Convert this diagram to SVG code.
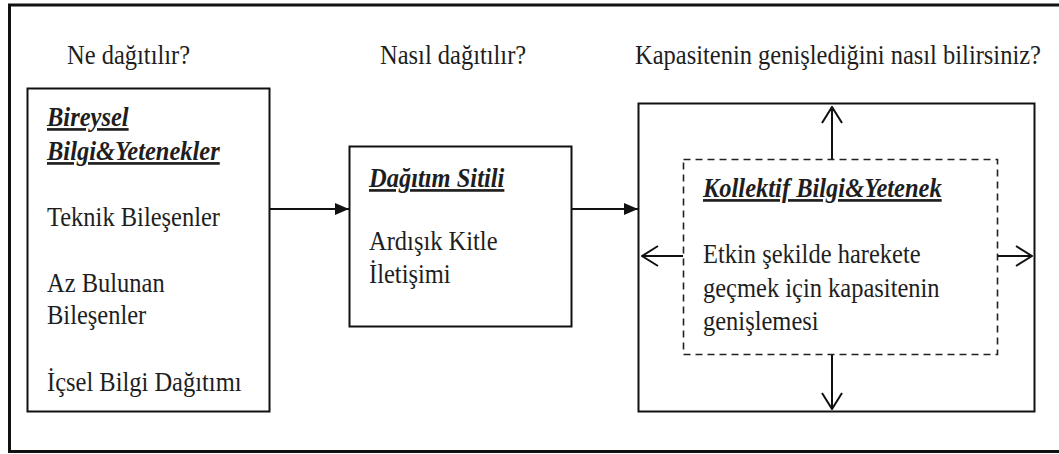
<svg xmlns="http://www.w3.org/2000/svg" width="1059" height="454" viewBox="0 0 1059 454" font-family="Liberation Serif, serif">
  <defs>
    <style>
      .frame { fill: none; stroke: #111; stroke-width: 3; }
      .box { fill: #fff; stroke: #111; stroke-width: 2; }
      .dash { fill: none; stroke: #222; stroke-width: 1.6; stroke-dasharray: 7 5; }
      .link { fill: none; stroke: #111; stroke-width: 2; }
      .t { font-size: 24.5px; fill: #1e1e1e; }
      .h { font-weight: bold; font-style: italic; text-decoration: underline; }
    </style>
    <marker id="solid" viewBox="0 0 14 12" refX="14" refY="6" markerWidth="14" markerHeight="12" markerUnits="userSpaceOnUse" orient="auto">
      <path d="M0,0 L14,6 L0,12 Z" fill="#111"/>
    </marker>
    <marker id="open" viewBox="0 0 18 22" refX="17" refY="11" markerWidth="18" markerHeight="22" markerUnits="userSpaceOnUse" orient="auto">
      <path d="M1,1 L17,11 L1,21" fill="none" stroke="#111" stroke-width="2"/>
    </marker>
  </defs>

  <rect width="1059" height="454" fill="#fff"/>

  <!-- outer frame, open on the right -->
  <path class="frame" d="M1062,5 H9.5 V451.5 H1062"/>

  <!-- column questions -->
  <g id="questions" font-family="Liberation Serif, serif">
    <text class="t" transform="translate(67,64) scale(1,1.09)">Ne dağıtılır?</text>
    <text class="t" transform="translate(380,64) scale(1,1.09)">Nasıl dağıtılır?</text>
    <text class="t" transform="translate(635,64) scale(1,1.09)">Kapasitenin genişlediğini nasıl bilirsiniz?</text>
  </g>

  <!-- individual knowledge and skills -->
  <g id="bireysel" font-family="Liberation Serif, serif">
    <rect class="box" x="27.5" y="88.5" width="242" height="323"/>
    <text class="t h" transform="translate(47,126) scale(1,1.09)">Bireysel</text>
    <text class="t h" transform="translate(47,160) scale(1,1.09)">Bilgi&amp;Yetenekler</text>
    <text class="t" transform="translate(47,226) scale(1,1.09)">Teknik Bileşenler</text>
    <text class="t" transform="translate(47,292) scale(1,1.09)">Az Bulunan</text>
    <text class="t" transform="translate(47,324) scale(1,1.09)">Bileşenler</text>
    <text class="t" transform="translate(47,391) scale(1,1.09)">İçsel Bilgi Dağıtımı</text>
  </g>

  <!-- distribution style -->
  <g id="dagitim" font-family="Liberation Serif, serif">
    <rect class="box" x="349.5" y="146.5" width="222" height="180"/>
    <text class="t h" transform="translate(369,187) scale(1,1.09)">Dağıtım Sitili</text>
    <text class="t" transform="translate(369,250) scale(1,1.09)">Ardışık Kitle</text>
    <text class="t" transform="translate(369,283) scale(1,1.09)">İletişimi</text>
  </g>

  <!-- collective knowledge and skills -->
  <g id="kollektif" font-family="Liberation Serif, serif">
    <rect class="box" x="638.5" y="103.5" width="396" height="308"/>
    <rect class="dash" x="683.5" y="159.5" width="314" height="195"/>
    <text class="t h" transform="translate(703,197) scale(1,1.09)">Kollektif Bilgi&amp;Yetenek</text>
    <text class="t" transform="translate(703,263) scale(1,1.09)">Etkin şekilde harekete</text>
    <text class="t" transform="translate(703,297) scale(1,1.09)">geçmek için kapasitenin</text>
    <text class="t" transform="translate(703,330) scale(1,1.09)">genişlemesi</text>
  </g>

  <!-- connectors -->
  <g id="connectors">
    <line class="link" x1="270" y1="209" x2="349" y2="209" marker-end="url(#solid)"/>
    <line class="link" x1="572" y1="209" x2="638" y2="209" marker-end="url(#solid)"/>
    <line class="link" x1="832" y1="159" x2="832" y2="107" marker-end="url(#open)"/>
    <line class="link" x1="832" y1="355" x2="832" y2="409" marker-end="url(#open)"/>
    <line class="link" x1="683" y1="256" x2="642" y2="256" marker-end="url(#open)"/>
    <line class="link" x1="998" y1="256" x2="1032" y2="256" marker-end="url(#open)"/>
  </g>
</svg>
